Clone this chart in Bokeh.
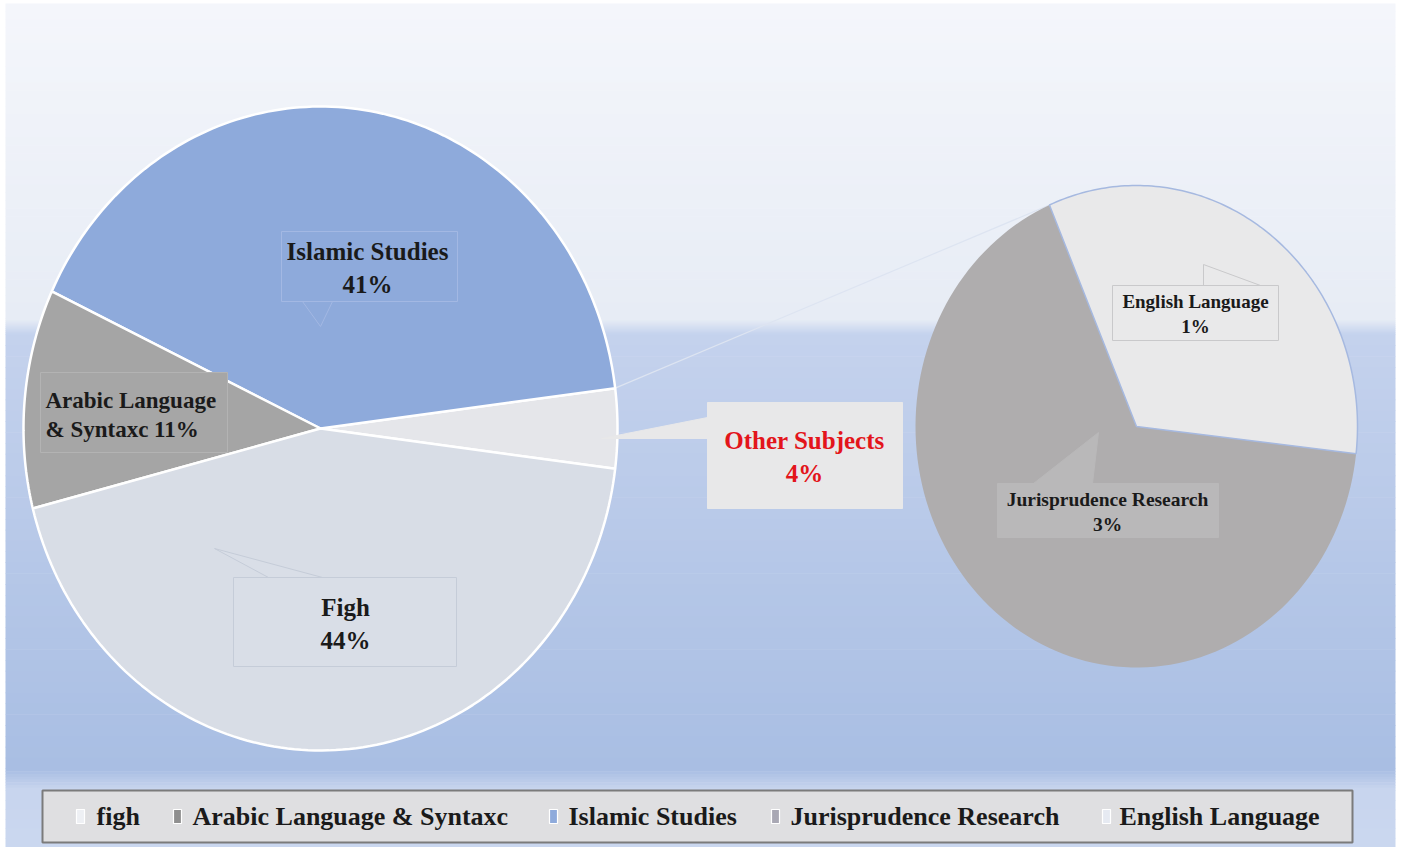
import numpy as np
from bokeh.plotting import figure
from bokeh.models import Range1d
from bokeh.core.properties import value
from bokeh.embed import file_html
from bokeh.resources import INLINE

# ---------------- data ----------------
main_labels = ["Other Subjects", "Islamic Studies", "Arabic Language & Syntaxc", "Figh"]
main_values = [4, 41, 11, 44]
main_colors = ["#e5e6ea", "#8eaadb", "#a5a5a5", "#d8dde6"]

sub_labels = ["English Language", "Jurisprudence Research"]
sub_values = [1.33, 2.67]
sub_colors = ["#e9e9ea", "#afadae"]

legend_labels = ["figh", "Arabic Language & Syntaxc", "Islamic Studies",
                 "Jurisprudence Research", "English Language"]
legend_colors = ["#eef0f4", "#8f8f8f", "#8eaadb", "#a9a8b4", "#e6eaf2"]

FONT = value("Liberation Serif")

W, H = 1396, 847
p = figure(width=W, height=H, output_backend="svg", toolbar_location=None,
           x_range=Range1d(0, W), y_range=Range1d(H, 0),
           min_border=0)
p.axis.visible = False
p.grid.visible = False
p.outline_line_color = None
p.background_fill_color = "white"
p.border_fill_color = "white"

BX0, BX1, BY0 = 5, 1395, 3


def hexrgb(h):
    h = h.lstrip("#")
    return np.array([int(h[i:i + 2], 16) for i in (0, 2, 4)], float)


def grad(y0, y1, c0, c1, n=40, x0=BX0, x1=BX1):
    a, b = hexrgb(c0), hexrgb(c1)
    edges = np.linspace(y0, y1, n + 1)
    cols = []
    for t in np.linspace(0, 1, n):
        c = a + (b - a) * t
        cols.append("#%02x%02x%02x" % tuple(int(round(v)) for v in c))
    p.quad(left=[x0] * n, right=[x1] * n, top=edges[:-1], bottom=edges[1:] + 0.6,
           fill_color=cols, line_color=None)


# background
grad(BY0, 318, "#f4f6fb", "#e7ecf5")
grad(318, 334, "#e7ecf5", "#c6d4ee", n=8)
grad(334, 768, "#c4d2ed", "#a9bee3")
grad(768, 790, "#a9bee3", "#c8d5ee", n=8)
grad(790, H, "#c8d5ee", "#cad7ef", n=6)


def slice_pts(cx, cy, rx, ry, a0, a1, n=120):
    th = np.radians(np.linspace(a0, a1, n))
    xs = np.concatenate([[cx], cx + rx * np.cos(th), [cx]])
    ys = np.concatenate([[cy], cy - ry * np.sin(th), [cy]])
    return list(xs), list(ys)


# main pie geometry
c1x, c1y, r1x, r1y = 320, 428, 297, 322
total = sum(main_values)
sweeps = [v / total * 360 for v in main_values]
start = -sweeps[0] / 2
main_angles = []
a = start
for s in sweeps:
    main_angles.append((a, a + s))
    a += s

# sub pie geometry
c2x, c2y, r2x, r2y = 1136, 426, 221, 241
stot = sum(sub_values)
a = -6.5
sub_angles = []
for v in sub_values:
    s = v / stot * 360
    sub_angles.append((a, a + s))
    a += s

# connector line (from top edge of "Other" slice to sub pie)
oa = np.radians(main_angles[0][1])
ea = np.radians(sub_angles[0][1])
p.line([c1x + r1x * np.cos(oa), c2x + r2x * np.cos(ea)],
       [c1y - r1y * np.sin(oa), c2y - r2y * np.sin(ea)],
       line_color="#dde4f1", line_width=1.2)

xs, ys = [], []
for (a0, a1) in main_angles:
    x_, y_ = slice_pts(c1x, c1y, r1x, r1y, a0, a1)
    xs.append(x_)
    ys.append(y_)
p.patches(xs, ys, fill_color=main_colors, line_color="white", line_width=2.5)

xs, ys = [], []
for (a0, a1) in sub_angles:
    x_, y_ = slice_pts(c2x, c2y, r2x, r2y, a0, a1)
    xs.append(x_)
    ys.append(y_)
p.patches(xs, ys, fill_color=sub_colors, line_color=None)
# outline of English slice
x_, y_ = slice_pts(c2x, c2y, r2x, r2y, *sub_angles[0])
p.line(x_, y_, line_color="#a6b9e0", line_width=1.5)


def callout(box, tri, fill, line, alpha=1.0):
    l, t, r, b = box
    if tri is not None:
        p.patch(tri[0], tri[1], fill_color=fill, fill_alpha=alpha, line_color=line, line_width=1)
    p.quad(left=[l], right=[r], top=[t], bottom=[b], fill_color=fill, fill_alpha=alpha,
           line_color=line, line_width=1)


def label(x, y, txt, size, color="#1a1a1a", align="center"):
    p.text([x], [y], text=[txt], text_font=FONT, text_font_style="bold",
           text_font_size=f"{size}px", text_color=color, text_align=align,
           text_baseline="middle")


def pct(v):
    return f"{round(v)}%"


# Islamic Studies
callout((281, 231, 457, 301), ([302, 320, 332], [301, 326, 301]), "#8eaadb", "#a3b8e3")
label(367, 251, main_labels[1], 25)
label(367, 284, pct(main_values[1]), 25)

# Arabic
callout((40, 372, 227, 452), None, "#a6a6a6", "#b3b3b3")
label(45, 400, "Arabic Language", 23, align="left")
label(45, 429, "& Syntaxc " + pct(main_values[2]), 23, align="left")

# Figh
callout((233, 577, 456, 666), ([268, 214, 322], [577, 548, 577]), "#d9dee7", "#c5ccd8")
label(345, 607, main_labels[3], 25)
label(345, 640, pct(main_values[3]), 25)

# Other subjects
callout((707, 402, 902, 508), ([707, 601, 707], [417, 438, 438]), "#e8e8e9", "#e8e8e9")
label(804, 440, main_labels[0], 25, color="#e3151b")
label(804, 473, pct(main_values[0]), 25, color="#e3151b")

# English Language
callout((1112, 285, 1278, 340), ([1203, 1203, 1260], [285, 264, 285]), "#e9e9ea", "#c9c9cb")
label(1195, 301, sub_labels[0], 19)
label(1195, 326, pct(sub_values[0]), 19)

# Jurisprudence Research
callout((997, 483, 1218, 537), ([1033, 1098, 1092], [483, 432, 483]), "#b9b8b9", "#b9b8b9")
label(1107, 499, sub_labels[1], 19.5)
label(1107, 524, pct(sub_values[1]), 19.5)

# legend
p.quad(left=[42], right=[1352], top=[790], bottom=[842], fill_color="#dfdfe1",
       line_color="#7b7b7b", line_width=2)
mk_x = [80, 177, 553, 775, 1106]
tx_x = [96, 192, 568, 790, 1119]
p.quad(left=[m - 4 for m in mk_x], right=[m + 4 for m in mk_x],
       top=[809] * 5, bottom=[823] * 5, fill_color=legend_colors,
       line_color="white", line_width=1.2)
p.text(tx_x, [816] * 5, text=legend_labels, text_font=FONT, text_font_style="bold",
       text_font_size="26px", text_color="#1a1a1a", text_align="left",
       text_baseline="middle")

open("out.html", "w").write(file_html(p, INLINE))
